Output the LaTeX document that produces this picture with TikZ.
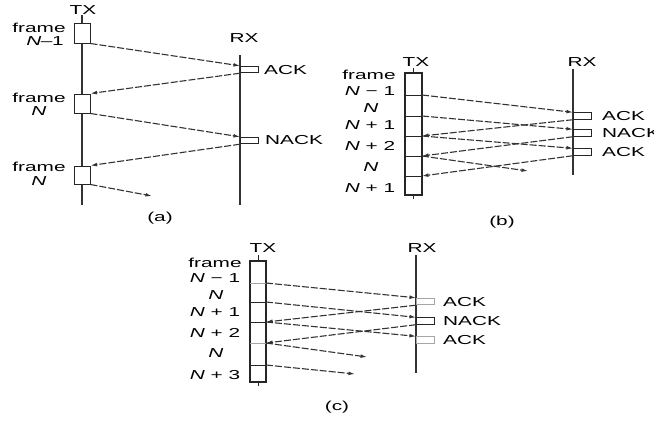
\documentclass[tikz,border=0pt]{standalone}
\usepackage{fontspec}
\usetikzlibrary{arrows.meta}
\newfontfamily\lblfont[FakeStretch=1.6]{Liberation Sans}
\begin{document}
\begin{tikzpicture}[x=1pt,y=-1pt,
  txline/.style={line width=1.6pt,black!80},
  rxline/.style={line width=1.4pt,black!80},
  fbox/.style={draw=black!85,line width=1pt,fill=white,inner sep=0pt,minimum width=16pt},
  abox/.style={draw=black!85,line width=0.9pt,fill=white,inner sep=0pt,minimum width=18pt,minimum height=6.5pt},
  gbox/.style={abox,draw=black!35},
  col/.style={draw=black!85,line width=1.3pt,fill=white,inner sep=0pt},
  divider/.style={line width=0.9pt,black!85},
  gdivider/.style={line width=0.9pt,black!35},
  msg/.style={dash pattern=on 7pt off 2pt,line width=1.1pt,black!80,
    -{Latex[length=6.5pt,width=3.8pt]}},
  lbl/.style={font=\lblfont\fontsize{13}{14}\selectfont,inner sep=0pt},
  rlbl/.style={lbl,anchor=west}]
\useasboundingbox (0,0) rectangle (654,421);

% ================= (a) =================
\node[lbl] (aTX) at (83,10) {TX};
\node[lbl] (aRX) at (244,38) {RX};
\coordinate (aTop) at (82,15);
\coordinate (aBot) at (82,205);
\draw[txline] (aTop) -- (aBot);
\coordinate (aRtop) at (240,55);
\coordinate (aRbot) at (240,205);
\draw[rxline] (aRtop) -- (aRbot);
\node[fbox,minimum height=20pt] (ab1) at (82,33) {};
\node[fbox,minimum height=19pt] (ab2) at (82,103.5) {};
\node[fbox,minimum height=18pt] (ab3) at (82,175) {};
\node[abox,anchor=west] (aack) at (240,69.5) {};
\node[abox,anchor=west] (anack) at (240,140.5) {};
\node[rlbl] (aacktxt) at (264,70) {ACK};
\node[rlbl] (anacktxt) at (265,140.5) {NACK};
\node[lbl] (af1) at (39,28) {frame};
\node[lbl] (an1) at (45,41) {\textit{N}\kern-0.5pt–\kern-0.5pt1};
\node[lbl] (af2) at (39,97.5) {frame};
\node[lbl] (an2) at (39,111) {\textit{N}};
\node[lbl] (af3) at (39,167) {frame};
\node[lbl] (an3) at (39,181) {\textit{N}};
\coordinate (aend) at (152,196);
\draw[msg] (ab1.south east) -- (aack.north west);
\draw[msg] (aack.south west) -- (ab2.north east);
\draw[msg] (ab2.south east) -- (anack.north west);
\draw[msg] (anack.south west) -- (ab3.north east);
\draw[msg] (ab3.south east) -- (aend);
\node[lbl] (acap) at (160,218) {(a)};

% ================= (b) =================
\node[lbl] (bTX) at (416,62) {TX};
\node[lbl] (bRX) at (582,62) {RX};
\coordinate (bsTop) at (413.5,68);
\coordinate (bsBot) at (413.5,199);
\draw[line width=1pt,black!85] (bsTop) -- (bsBot);
\node[col,minimum width=17pt,minimum height=122pt] (bcol) at (413.5,134) {};
\foreach \y/\n in {95/1,116/2,136/3,156/4,176/5}{
  \coordinate (bl\n) at (405,\y);
  \coordinate (b\n) at (422,\y);
  \draw[divider] (bl\n) -- (b\n);
}
\coordinate (bRtop) at (573,69);
\coordinate (bRbot) at (573,175);
\draw[rxline] (bRtop) -- (bRbot);
\node[abox,anchor=west] (back1) at (573,116) {};
\node[abox,anchor=west] (bnack) at (573,133) {};
\node[abox,anchor=west] (back2) at (573,152) {};
\node[rlbl] (backt1) at (602,116) {ACK};
\node[rlbl] (bnackt) at (602,133) {NACK};
\node[rlbl] (backt2) at (602,152) {ACK};
\node[lbl] (bf) at (369,75) {frame};
\node[lbl] (bn1) at (370,91) {\textit{N} − 1};
\node[lbl] (bn2) at (371,108) {\textit{N}};
\node[lbl] (bn3) at (370,125) {\textit{N} + 1};
\node[lbl] (bn4) at (370,146) {\textit{N} + 2};
\node[lbl] (bn5) at (371,167) {\textit{N}};
\node[lbl] (bn6) at (370,188) {\textit{N} + 1};
\coordinate (bend) at (528,171);
\draw[msg] (b1) -- (back1.north west);
\draw[msg] (b2) -- (bnack.north west);
\draw[msg] (b3) -- (back2.north west);
\draw[msg] (b4) -- (bend);
\draw[msg] (back1.south west) -- (b3);
\draw[msg] (bnack.south west) -- (b4);
\draw[msg] (back2.south west) -- (b5);
\node[lbl] (bcap) at (502,222) {(b)};

% ================= (c) =================
\node[lbl] (cTX) at (263,248) {TX};
\node[lbl] (cRX) at (422,248) {RX};
\coordinate (csTop) at (258,255);
\coordinate (csBot) at (258,386);
\draw[line width=1pt,black!85] (csTop) -- (csBot);
\node[col,minimum width=16pt,minimum height=121pt] (ccol) at (258,321.5) {};
\foreach \y/\n/\s in {283/1/gdivider,302/2/divider,322/3/divider,343/4/gdivider,365/5/divider}{
  \coordinate (cl\n) at (250,\y);
  \coordinate (c\n) at (266,\y);
  \draw[\s] (cl\n) -- (c\n);
}
\coordinate (cRtop) at (416,255);
\coordinate (cRbot) at (416,373);
\draw[rxline] (cRtop) -- (cRbot);
\node[gbox,anchor=west] (cack1) at (416,301.5) {};
\node[abox,anchor=west] (cnack) at (416,321) {};
\node[gbox,anchor=west] (cack2) at (416,340) {};
\node[rlbl] (cackt1) at (443,302) {ACK};
\node[rlbl] (cnackt) at (443,321) {NACK};
\node[rlbl] (cackt2) at (443,340) {ACK};
\node[lbl] (cf) at (215,263) {frame};
\node[lbl] (cn1) at (215,278) {\textit{N} − 1};
\node[lbl] (cn2) at (216,295) {\textit{N}};
\node[lbl] (cn3) at (215,312) {\textit{N} + 1};
\node[lbl] (cn4) at (215,333) {\textit{N} + 2};
\node[lbl] (cn5) at (216,353) {\textit{N}};
\node[lbl] (cn6) at (215,375) {\textit{N} + 3};
\coordinate (cend1) at (367,357);
\coordinate (cend2) at (355,374);
\draw[msg] (c1) -- (cack1.north west);
\draw[msg] (c2) -- (cnack.north west);
\draw[msg] (c3) -- (cack2.north west);
\draw[msg] (c4) -- (cend1);
\draw[msg] (c5) -- (cend2);
\draw[msg] (cack1.south west) -- (c3);
\draw[msg] (cnack.south west) -- (c4);
\node[lbl] (ccap) at (337,407) {(c)};
\end{tikzpicture}
\end{document}
